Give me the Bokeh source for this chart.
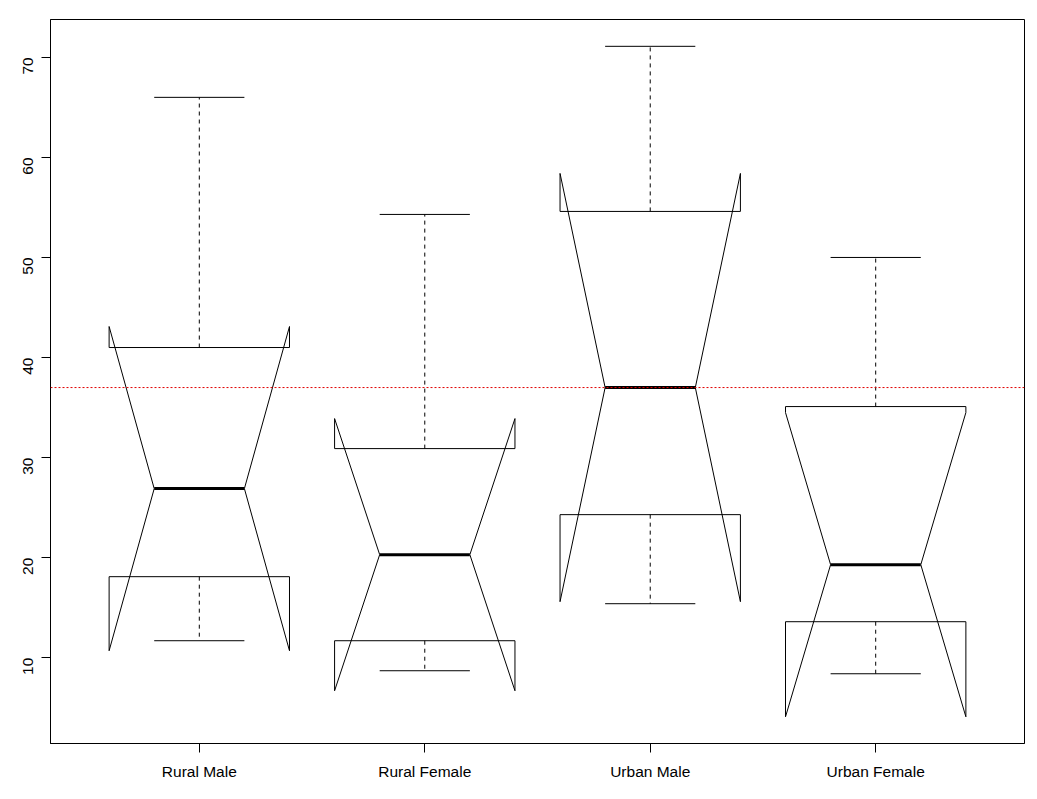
import math
from bokeh.plotting import figure
from bokeh.models import Range1d, FixedTicker, Span, ColumnDataSource
from bokeh.embed import file_html
from bokeh.resources import INLINE

# Data (VADeaths-like boxplot statistics)
categories = ["Rural Male", "Rural Female", "Urban Male", "Urban Female"]
mins = [11.7, 8.7, 15.4, 8.4]
q1 = [18.1, 11.7, 24.3, 13.6]
medians = [26.9, 20.3, 37.0, 19.3]
q3 = [41.0, 30.9, 54.6, 35.1]
maxs = [66.0, 54.3, 71.1, 50.0]
notch_lo = [10.7, 6.7, 15.6, 4.1]
notch_hi = [43.1, 33.9, 58.4, 34.5]
overall_median = 37.0
y_ticks = [10, 20, 30, 40, 50, 60, 70]

FONT = "Liberation Sans"
half_box = 0.4
half_in = 0.2
half_cap = 0.2

pos = list(range(1, len(categories) + 1))

p = figure(width=1037, height=799, output_backend="svg", toolbar_location=None,
           x_range=Range1d(0.34, 4.66), y_range=Range1d(1.43, 73.78),
           min_border_left=50, min_border_right=13, min_border_top=19, min_border_bottom=56)
p.background_fill_color = "white"
p.border_fill_color = "white"
p.outline_line_color = "black"
p.outline_line_width = 1
p.xgrid.visible = False
p.ygrid.visible = False

# notch polygons
xs, ys = [], []
for i, x in enumerate(pos):
    xl, xr = x - half_box, x + half_box
    ml, mr = x - half_in, x + half_in
    xs.append([xl, xl, ml, xl, xl, xr, xr, mr, xr, xr])
    ys.append([q1[i], notch_lo[i], medians[i], notch_hi[i], q3[i],
               q3[i], notch_hi[i], medians[i], notch_lo[i], q1[i]])
p.patches(xs=xs, ys=ys, fill_color="white", fill_alpha=0.0, line_color="black", line_width=1)

src = ColumnDataSource(dict(
    x=pos, mins=mins, q1=q1, med=medians, q3=q3, maxs=maxs,
    cl=[x - half_cap for x in pos], cr=[x + half_cap for x in pos],
    ml=[x - half_in for x in pos], mr=[x + half_in for x in pos],
))
# whiskers
p.segment(x0="x", y0="q3", x1="x", y1="maxs", source=src, line_color="black", line_width=1, line_dash="4 4")
p.segment(x0="x", y0="q1", x1="x", y1="mins", source=src, line_color="black", line_width=1, line_dash="4 4")
# caps
p.segment(x0="cl", y0="maxs", x1="cr", y1="maxs", source=src, line_color="black", line_width=1)
p.segment(x0="cl", y0="mins", x1="cr", y1="mins", source=src, line_color="black", line_width=1)
# medians
p.segment(x0="ml", y0="med", x1="mr", y1="med", source=src, line_color="black", line_width=3)

p.add_layout(Span(location=overall_median, dimension="width", line_color="#e00000",
                  line_width=1, line_dash="2 2"))

# axes
p.xaxis.ticker = FixedTicker(ticks=pos)
p.xaxis.major_label_overrides = {x: c for x, c in zip(pos, categories)}
p.yaxis.ticker = FixedTicker(ticks=y_ticks)
p.yaxis.major_label_orientation = math.pi / 2
for ax in (p.xaxis[0], p.yaxis[0]):
    ax.major_tick_out = 9
    ax.major_tick_in = 0
    ax.minor_tick_line_color = None
    ax.axis_line_color = "black"
    ax.major_tick_line_color = "black"
    ax.major_label_text_font = FONT
    ax.major_label_text_font_size = "15.5px"
    ax.major_label_text_color = "black"
p.xaxis.major_label_standoff = 10
p.yaxis.major_label_standoff = 13

open("out.html", "w").write(file_html(p, INLINE))
